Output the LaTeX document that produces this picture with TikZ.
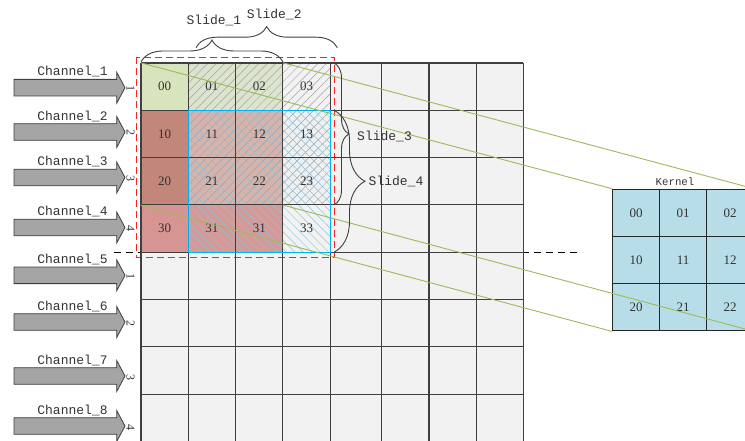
\documentclass[tikz,border=0pt]{standalone}
\usepackage{fontspec}
\setmainfont{Liberation Serif}
\setmonofont{Liberation Mono}
\usetikzlibrary{patterns.meta,decorations.pathreplacing}
\definecolor{gridbg}{HTML}{F2F2F2}
\definecolor{gridln}{HTML}{3F3F3F}
\definecolor{sgreen}{HTML}{D7E4BD}
\definecolor{sgreenh}{HTML}{DCE4CE}
\definecolor{sbrown}{HTML}{C3867A}
\definecolor{srose}{HTML}{D8B3AB}
\definecolor{slight}{HTML}{EEF0F1}
\definecolor{sred}{HTML}{D69593}
\definecolor{sredh}{HTML}{D59A98}
\definecolor{hatchgray}{HTML}{A3A3A3}
\definecolor{hatchblue}{HTML}{8CC4DC}
\definecolor{winblue}{HTML}{00B0F0}
\definecolor{winred}{HTML}{FF2020}
\definecolor{link}{HTML}{9BBB59}
\definecolor{kblue}{HTML}{B7DEE8}
\definecolor{arrfill}{HTML}{A5A5A5}
\definecolor{txt}{HTML}{333333}
\newcommand{\lblfont}{\fontsize{13}{15}\selectfont\ttfamily}

\begin{document}
\begin{tikzpicture}[x=1pt,y=-1pt,
    cell/.style={minimum width=47.3pt,minimum height=47.3pt,inner sep=0pt,text=txt,font=\fontsize{13}{15}\selectfont},
    kcell/.style={cell,minimum width=47pt,fill=kblue,draw=black!85,line width=1pt},
    gline/.style={gridln,line width=1.1pt},
    lbl/.style={font=\lblfont,text=txt,inner sep=0pt},
    slidebrace/.style={decorate,gridln,line width=0.9pt},
    linkline/.style={link,line width=0.9pt}]
        \useasboundingbox (0,0) rectangle (745,441);
        \clip (0,0) rectangle (745,441);
        % input map
        \fill[gridbg] (141,63) rectangle (523.3,441.4);
        \fill[sgreen] (141,63) rectangle (188.3,110.3);
        \fill[sgreenh] (188.3,63) rectangle (282.9,110.3);
        \fill[sbrown] (141,110.3) rectangle (188.3,204.9);
        \fill[srose] (188.3,110.3) rectangle (282.9,204.9);
        \fill[slight] (282.9,110.3) rectangle (330.2,204.9);
        \fill[sred] (141,204.9) rectangle (188.3,252.2);
        \fill[sredh] (188.3,204.9) rectangle (282.9,252.2);
        \coordinate (sepL) at (114,252.2);
        \coordinate (sepR) at (582,252.2);
        \draw[color=black,line width=0.9pt,dash pattern=on 7pt off 5pt] (sepL) -- (sepR);
        \draw[color=winred,line width=1.3pt,dash pattern=on 7pt off 4pt] (136.7,57.3) rectangle (334.3,257.5);
        \fill[pattern={Lines[angle=45,distance=6pt,line width=0.5pt]},pattern color=hatchgray] (188.3,63) rectangle (330.2,204.9);
        \fill[pattern={Lines[angle=-45,distance=6pt,line width=0.5pt]},pattern color=hatchblue] (188.3,110.3) rectangle (330.2,252.2);
        \foreach \x in {141,188.3,235.6,282.9,330.2,381.7,429,476.3,523.3}
          \draw[gline] (\x,63) -- (\x,441.4);
        \foreach \y in {63,110.3,157.6,204.9,252.2,299.5,346.8,394.1,441.4}
          \draw[gline] (141,\y) -- (523.3,\y);
        \draw[draw=winblue,line width=1.3pt] (188.3,110.3) rectangle (330.2,252.2);
        \foreach \r/\labs in {0/{00,01,02,03},1/{10,11,12,13},2/{20,21,22,23},3/{30,31,31,33}}
          \foreach \t [count=\c from 0] in \labs
            \node[cell] (c\r\c) at ({164.65+47.3*\c},{86.65+47.3*\r}) {\t};
        % kernel
        \foreach \r in {0,1,2}
          \foreach \c in {0,1,2}
            \node[kcell] (k\r\c) at ({636.2+47*\c},{212.9+47.2*\r}) {\r\c};
        \node[lbl,font=\fontsize{10.7}{12}\selectfont\ttfamily] (ktitle) at (675,181.5) {Kernel};
        \draw[linkline] (c00.north west) -- (k00.north west);
        \draw[linkline] (c02.north east) -- (k02.north east);
        \draw[linkline] (c20.south west) -- (k20.south west);
        \draw[linkline] (c22.south east) -- (k22.south east);
        % slides
        \draw[slidebrace,decoration={brace,amplitude=22pt}] (141,62) -- (282.9,62);
        \draw[slidebrace,decoration={brace,amplitude=21pt}] (196,47.7) -- (337.3,47.7);
        \draw[slidebrace,decoration={brace,amplitude=15pt}] (334,63) -- (334,204.9);
        \draw[slidebrace,decoration={brace,amplitude=31pt}] (334,110.3) -- (334,252.2);
        \node[lbl] (slide1) at (214,20.7) {Slide\_1};
        \node[lbl] (slide2) at (274.3,14) {Slide\_2};
        \node[lbl,anchor=west] (slide3) at (357,136) {Slide\_3};
        \node[lbl,anchor=west] (slide4) at (368.5,181.7) {Slide\_4};
        % channels
        \foreach \i/\y/\n in {1/87.7/1,2/132/2,3/177.5/3,4/227.5/4,5/275.3/1,6/322/2,7/376/3,8/426/4} {
          \filldraw[fill=arrfill,draw=gridln,line width=0.8pt] (14,{\y-8.3}) -- (116.7,{\y-8.3}) -- (116.7,{\y-15.5}) -- (125,\y)
            -- (116.7,{\y+15.5}) -- (116.7,{\y+8.3}) -- (14,{\y+8.3}) -- cycle;
          \node[lbl] (ch\i) at (72.5,{\y-16}) {Channel\_\i};
          \node[text=txt,font=\fontsize{12}{14}\selectfont,rotate=-90,inner sep=0pt] (num\i) at (130.5,{\y+1}) {\n};
        }
      \end{tikzpicture}
\end{document}
